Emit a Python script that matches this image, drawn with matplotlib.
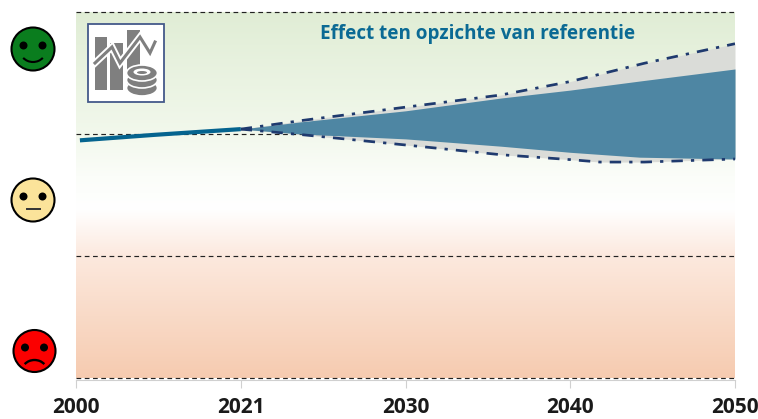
#!/usr/bin/env python3
"""
Effect ten opzichte van referentie: band chart with smileys
"""

import numpy as np
import matplotlib
matplotlib.use('Agg')
import matplotlib.pyplot as plt
from matplotlib.colors import LinearSegmentedColormap
from matplotlib.patches import Circle, Arc, Rectangle, Ellipse

plt.rcParams['font.family'] = ['Open Sans', 'DejaVu Sans']

# Category years, drawn at equal spacing
TICK_YEARS = [2000, 2021, 2030, 2040, 2050]
LEVELS = [0, 1, 2, 3]

# Historic line
HIST_YEARS = [2000.5, 2010, 2021]
HIST_VALUES = [1.948, 1.993, 2.04]

# Outer scenario range (dash-dot)
OUTER_YEARS = [2021, 2024.3, 2030, 2035.8, 2040, 2041.8, 2044.5, 2050]
OUTER_HIGH = [2.04, 2.11, 2.22, 2.32, 2.43, 2.49, 2.58, 2.74]
OUTER_LOW = [2.04, 1.995, 1.91, 1.83, 1.79, 1.77, 1.77, 1.795]

# Inner range (solid band)
INNER_YEARS = [2021, 2024.3, 2030, 2035.8, 2040, 2044.2, 2050]
INNER_HIGH = [2.04, 2.10, 2.19, 2.295, 2.36, 2.434, 2.533]
INNER_LOW = [2.04, 2.00, 1.96, 1.90, 1.85, 1.81, 1.795]


def to_pos(y):
    return np.interp(y, TICK_YEARS, range(len(TICK_YEARS)))


def to_year(p):
    return np.interp(p, range(len(TICK_YEARS)), TICK_YEARS)


def draw_face(ov, cx, cy, r, color, mouth):
    ov.add_patch(Circle((cx, cy), r, fc=color, ec='black', lw=1.5))
    for dx in (-9.5, 9.5):
        ov.add_patch(Circle((cx + dx, cy - 3.5), 4, fc='black', ec='none'))
    if mouth == 'smile':
        ov.add_patch(Arc((cx, cy + 2), 25, 22, theta1=35, theta2=145, color='black', lw=1.5))
    elif mouth == 'flat':
        ov.plot([cx - 6.5, cx + 6.5], [cy + 9, cy + 9], color='#333333', lw=1.4)
    else:
        ov.add_patch(Arc((cx, cy + 20), 25, 22, theta1=215, theta2=325, color='black', lw=1.7))


def draw_icon(ov):
    grey = '#7f7f7f'
    ov.add_patch(Rectangle((87.5, 24.5), 76, 78, fc='white', ec='#44598a', lw=1.3))
    for x0, x1, top in [(95, 107, 37), (110, 123, 43), (127, 140, 30)]:
        ov.add_patch(Rectangle((x0, top), x1 - x0, 90 - top, fc=grey, ec='none'))
    zig_x = [95, 112, 120, 140, 150, 155]
    zig_y = [63, 47, 63, 37, 53, 42]
    ov.plot(zig_x, zig_y, color='white', lw=5, solid_joinstyle='miter')
    ov.plot(zig_x, zig_y, color=grey, lw=2.2, solid_joinstyle='miter')
    for cy, fc in [(88, grey), (80, grey), (73, grey)]:
        ov.add_patch(Ellipse((142, cy), 31, 16, fc=fc, ec='white', lw=1.2))
    ov.add_patch(Ellipse((142, 72), 17, 7, fc='white', ec='none'))
    ov.add_patch(Ellipse((142, 72.5), 10, 3, fc=grey, ec='none'))


fig = plt.figure(figsize=(7.58, 4.19), dpi=100)
ax = fig.add_axes([76 / 758, 41 / 419, 659 / 758, 366 / 419])

ax.set_xscale('function', functions=(to_pos, to_year))
ax.set_xlim(2000, 2050)
ax.set_ylim(0, 3)

# Background gradient, top (green) via white to bottom (peach)
cmap = LinearSegmentedColormap.from_list('bg', [
    (0.0, '#f6cbb0'), (0.333, '#fce9de'), (0.46, '#ffffff'),
    (0.55, '#fbfdf9'), (0.667, '#f2f8ec'), (1.0, '#e0edd5')])
grad = np.linspace(1, 0, 256).reshape(-1, 1)
ax.imshow(grad, cmap=cmap, vmin=0, vmax=1, aspect='auto',
          extent=(0, 1, 0, 1), transform=ax.transAxes, zorder=0)
ax.set_xlim(2000, 2050)
ax.set_ylim(0, 3)

ax.set_yticks(LEVELS)
ax.tick_params(axis='y', left=False, labelleft=False)
ax.yaxis.grid(True, color='#222222', linestyle=(0, (4, 3)), linewidth=0.85, zorder=1)
for line in ax.get_ygridlines():
    line.set_clip_on(False)

ax.fill_between(OUTER_YEARS, OUTER_LOW, OUTER_HIGH, color='#dadcd8', lw=0, zorder=2)
ax.fill_between(INNER_YEARS, INNER_LOW, INNER_HIGH, color='#4e86a3', lw=0, zorder=3)
dash_dot = (0, (4.2, 3.0, 1.2, 3.0))
ax.plot(OUTER_YEARS, OUTER_HIGH, color='#1f3a6e', lw=1.95, linestyle=dash_dot, zorder=4)
ax.plot(OUTER_YEARS, OUTER_LOW, color='#1f3a6e', lw=1.95, linestyle=dash_dot, zorder=4)
ax.plot(HIST_YEARS, HIST_VALUES, color='#05648f', lw=3, solid_capstyle='butt', zorder=5)

for side in ('top', 'left', 'right'):
    ax.spines[side].set_visible(False)
ax.spines['bottom'].set_color('#d0d0d0')
ax.spines['bottom'].set_position(('outward', 1.5))

ax.set_xticks(TICK_YEARS)
ax.set_xticklabels([str(y) for y in TICK_YEARS], fontsize=15, fontweight='bold', color='#1a1a1a')
ax.xaxis.set_minor_locator(plt.NullLocator())
ax.tick_params(axis='x', direction='out', length=5.5, width=0.8, color='#d0d0d0', pad=7)
ax.set_axisbelow(False)

# Overlay in pixel coordinates for the title, smileys and icon
ov = fig.add_axes([0, 0, 1, 1], facecolor='none')
ov.set_xlim(0, 758)
ov.set_ylim(419, 0)
ov.axis('off')

ov.text(477.5, 34, 'Effect ten opzichte van referentie', color='#0b6a94',
        fontsize=13.6, fontweight='bold', ha='center', va='center')

draw_face(ov, 33, 49, 21.5, '#0a7d1e', 'smile')
draw_face(ov, 33, 200, 21.5, '#fbe39a', 'flat')
draw_face(ov, 34.5, 351, 21, '#fb0000', 'frown')
draw_icon(ov)

fig.savefig('out.png', dpi=100)
